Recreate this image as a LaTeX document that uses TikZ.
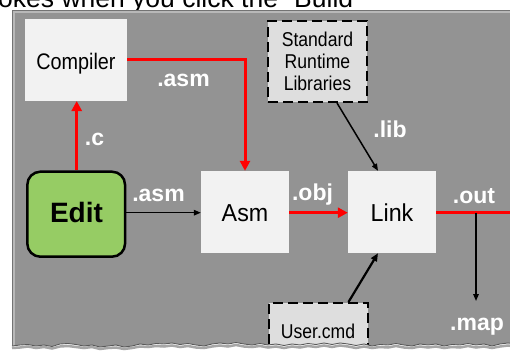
\documentclass[tikz,border=0pt]{standalone}
\usepackage{fontspec}
\setmainfont{Liberation Sans}
\newfontfamily\narrowA[FakeStretch=0.88]{Liberation Sans}
\newfontfamily\narrowB[FakeStretch=0.95]{Liberation Sans}
\usetikzlibrary{arrows.meta,calc}
\definecolor{panelgray}{HTML}{939393}
\definecolor{boxfill}{HTML}{F2F2F2}
\definecolor{libfill}{HTML}{DEDEDE}
\definecolor{editgreen}{HTML}{96CC64}
\tikzset{
  plainbox/.style={rectangle, fill=boxfill, draw=none, inner sep=0pt},
  dashbox/.style={rectangle, fill=libfill, draw=black, line width=2pt, dash pattern=on 10pt off 5pt, inner sep=0pt},
  editbox/.style={rectangle, rounded corners=13pt, fill=editgreen, draw=black, line width=2.5pt, inner sep=0pt},
  boxtxt/.style={inner sep=0pt, anchor=base, text=black},
  lbl/.style={inner sep=0pt, anchor=base, text=white, font=\bfseries\fontsize{23}{27}\selectfont},
  redarrow/.style={draw=red, line width=3pt, -{Triangle[length=10pt,width=10pt]}},
  redline/.style={draw=red, line width=3pt},
  blkarrow/.style={draw=black, line width=1.5pt, -{Triangle[length=7pt,width=5.5pt]}},
  blkthick/.style={draw=black, line width=2.2pt, -{Triangle[length=8pt,width=6.5pt]}},
}
\begin{document}
\begin{tikzpicture}[x=1pt,y=-1pt]
\useasboundingbox (0,0) rectangle (510,350);
\clip (0,0) rectangle (510,350);
\fill[white] (0,0) rectangle (510,350);
% cut-off heading text
\node[anchor=base west, inner sep=0pt, font=\fontsize{26.5}{30}\selectfont] (hdr) at (-2,8) {okes when you click the “Build};
% panel
\fill[panelgray] (12,10) rectangle (515,352);
\draw[color=black!55, line width=0.8pt] (12.4,352) -- (12.4,10.4) -- (515,10.4);
\draw[color=black!28, line width=1.5pt] (14,352) -- (14,12) -- (515,12);

% boxes
\node[plainbox, minimum width=102pt, minimum height=82pt] (compiler) at (76,60) {};
\node[dashbox, minimum width=99pt, minimum height=81pt] (stdlib) at (317.5,61.5) {};
\node[editbox, minimum width=97.7pt, minimum height=85pt] (edit) at (76.2,214.2) {};
\node[plainbox, minimum width=88pt, minimum height=82pt] (asm) at (245,212) {};
\node[plainbox, minimum width=88pt, minimum height=82pt] (link) at (392,212) {};
\node[dashbox, minimum width=99pt, minimum height=56pt] (usercmd) at (318.5,331) {};

% box texts
\node[boxtxt, font=\narrowA\fontsize{22.5}{27}\selectfont] (compilerT) at (76,70) {Compiler};
\node[boxtxt, font=\narrowA\fontsize{20}{24}\selectfont] (stdT1) at (317.5,47) {Standard};
\node[boxtxt, font=\narrowA\fontsize{20}{24}\selectfont] (stdT2) at (317.5,69) {Runtime};
\node[boxtxt, font=\narrowA\fontsize{20}{24}\selectfont] (stdT3) at (317.5,90.5) {Libraries};
\node[boxtxt, font=\bfseries\fontsize{28}{32}\selectfont] (editT) at (76.5,222.5) {Edit};
\node[boxtxt, font=\narrowB\fontsize{24.5}{29}\selectfont] (asmT) at (245,221.5) {Asm};
\node[boxtxt, font=\narrowB\fontsize{24.5}{29}\selectfont] (linkT) at (392,221.5) {Link};
\node[boxtxt, font=\narrowA\fontsize{20}{24}\selectfont] (userT) at (318,338) {User.cmd};

% coordinates for free ends
\coordinate (outR) at (515,212.7);
\coordinate (outJ) at (476,212.7);
\coordinate (mapTip) at (476,301);

% connectors
\draw[redarrow] (edit.north -| 76.7,0) -- (76.7,101);
\draw[redarrow] (compiler.east) -| (asm.north);
\draw[blkarrow] (edit.east |- 0,212.7) -- (asm.west |- 0,212.7);
\draw[redarrow] (asm.east |- 0,212.7) -- (link.west |- 0,212.7);
\draw[redline] (link.east |- 0,212.7) -- (outR);
\draw[blkarrow] (outJ) -- (mapTip);
\draw[blkarrow] ($(stdlib.south)+(19.5,0)$) -- ($(link.north)+(-14,0)$);
\draw[blkthick] ($(usercmd.north)+(30,0)$) -- ($(link.south)+(-14,0)$);

% labels
\node[lbl] (lblAsmTop) at (183.5,86.5) {.asm};
\node[lbl] (lblC) at (94.5,145) {.c};
\node[lbl] (lblAsm) at (158.5,201) {.asm};
\node[lbl] (lblObj) at (312.5,200.5) {.obj};
\node[lbl] (lblLib) at (390,137.5) {.lib};
\node[lbl] (lblOut) at (474,203) {.out};
\node[lbl] (lblMap) at (477,330.5) {.map};

% torn bottom edge
\fill[white] (12,346) -- (20,345) -- (28,344.5) -- (36,346) -- (44,345) -- (52,346.5) -- (60,344) -- (68,343.5) -- (76,344.5) -- (84,346) -- (92,345) -- (100,347) -- (108,346) -- (116,345) -- (124,347) -- (132,346) -- (140,344) -- (148,345) -- (156,343.5) -- (164,344) -- (172,343) -- (180,344.5) -- (188,343.5) -- (196,345) -- (204,346) -- (212,344) -- (220,343) -- (228,344) -- (236,342.5) -- (244,344) -- (252,345) -- (260,343.5) -- (268,345) -- (276,344) -- (284,345.5) -- (292,344) -- (300,345) -- (308,343.5) -- (316,344.5) -- (324,343) -- (332,344.5) -- (340,343) -- (348,344) -- (356,345.5) -- (364,344) -- (372,346) -- (380,344.5) -- (388,345) -- (396,343.5) -- (404,345) -- (412,346) -- (420,344) -- (428,345) -- (436,344) -- (444,346) -- (452,344.5) -- (460,345) -- (468,343.5) -- (476,345) -- (484,344) -- (492,346) -- (500,344) -- (508,343) -- (516,344) -- (516,352) -- (10,352) -- cycle;
\draw[color=black!35, line width=2.5pt] (12,348) -- (20,347.5) -- (28,346.5) -- (36,348) -- (44,347) -- (52,348.5) -- (60,346.5) -- (68,346) -- (76,347) -- (84,348) -- (92,347) -- (100,349) -- (108,348) -- (116,347.5) -- (124,349) -- (132,348) -- (140,346.5) -- (148,347) -- (156,346) -- (164,346.5) -- (172,345.5) -- (180,347) -- (188,346) -- (196,347.5) -- (204,348) -- (212,346.5) -- (220,345.5) -- (228,346.5) -- (236,345) -- (244,346.5) -- (252,347) -- (260,346) -- (268,347.5) -- (276,346.5) -- (284,348) -- (292,346.5) -- (300,347.5) -- (308,346) -- (316,347) -- (324,345.5) -- (332,347) -- (340,345.5) -- (348,346.5) -- (356,348) -- (364,346.5) -- (372,348) -- (380,347) -- (388,347.5) -- (396,346) -- (404,347.5) -- (412,348) -- (420,346.5) -- (428,347.5) -- (436,346.5) -- (444,348) -- (452,347) -- (460,347.5) -- (468,346) -- (476,347.5) -- (484,346.5) -- (492,348) -- (500,346.5) -- (508,345.5) -- (516,346.5);
\draw[color=black!65, line width=0.9pt] (12,346) -- (20,345) -- (28,344.5) -- (36,346) -- (44,345) -- (52,346.5) -- (60,344) -- (68,343.5) -- (76,344.5) -- (84,346) -- (92,345) -- (100,347) -- (108,346) -- (116,345) -- (124,347) -- (132,346) -- (140,344) -- (148,345) -- (156,343.5) -- (164,344) -- (172,343) -- (180,344.5) -- (188,343.5) -- (196,345) -- (204,346) -- (212,344) -- (220,343) -- (228,344) -- (236,342.5) -- (244,344) -- (252,345) -- (260,343.5) -- (268,345) -- (276,344) -- (284,345.5) -- (292,344) -- (300,345) -- (308,343.5) -- (316,344.5) -- (324,343) -- (332,344.5) -- (340,343) -- (348,344) -- (356,345.5) -- (364,344) -- (372,346) -- (380,344.5) -- (388,345) -- (396,343.5) -- (404,345) -- (412,346) -- (420,344) -- (428,345) -- (436,344) -- (444,346) -- (452,344.5) -- (460,345) -- (468,343.5) -- (476,345) -- (484,344) -- (492,346) -- (500,344) -- (508,343) -- (516,344);
\end{tikzpicture}
\end{document}
